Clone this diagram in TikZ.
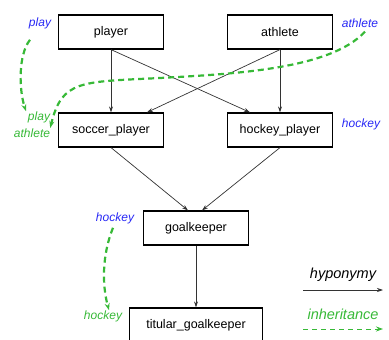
\documentclass[tikz,border=0pt]{standalone}
\usepackage{fontspec}
\setmainfont{Liberation Sans}
\usetikzlibrary{arrows.meta}
\definecolor{lblue}{RGB}{40,40,245}
\definecolor{lgreen}{RGB}{55,185,55}
\begin{document}
\begin{tikzpicture}[x=1pt,y=-1pt,
    box/.style={draw,line width=1.2pt,minimum width=105pt,minimum height=34pt,inner sep=0pt,font=\fontsize{12.5}{14}\selectfont},
    hyp/.style={draw=black!80,line width=0.7pt,-{Stealth[length=6pt,width=4pt]}},
    inh/.style={draw=lgreen,line width=2.2pt,dash pattern=on 6pt off 4pt,-{Stealth[length=7pt,width=5pt]}},
    blab/.style={text=lblue,inner sep=0pt,font=\fontsize{12}{14}\selectfont\itshape},
    glab/.style={text=lgreen,inner sep=0pt,font=\fontsize{12}{14}\selectfont\itshape},
    leg/.style={inner sep=0pt,font=\fontsize{14.5}{16}\selectfont\itshape}]
  \useasboundingbox (0,0) rectangle (389,340);
  \node (player) at (111,32) [box] {player}; \node (athlete) at (280,32)
  [box] {athlete}; \node (soccer) at (111,130) [box] {soccer\_player};
  \node (hockey) at (280,130) [box] {hockey\_player}; \node (goal) at
  (196,228) [box] {goalkeeper}; \node (titular) at (196,325) [box,minimum
  width=133pt] {titular\_goalkeeper};
  \draw[hyp] (player.south) -- (soccer.north); \draw[hyp] (player.south)
  -- ([xshift=-30pt]hockey.north); \draw[hyp] (athlete.south) --
  (hockey.north); \draw[hyp] (athlete.south) -- ([xshift=36pt]soccer.north);
  \draw[hyp] (soccer.south) -- ([xshift=-8pt]goal.north); \draw[hyp]
  (hockey.south) -- ([xshift=6pt]goal.north); \draw[hyp] (goal.south) --
  (titular.north);
  % inherited features
  \node (bplay) at (40,23) [blab] {play}; \node (bathl) at (360,23) [blab]
  {athlete}; \node (bhock) at (361,124) [blab] {hockey}; \node (bhock2) at
  (115,218) [blab] {hockey}; \node (gplay) at (39,117) [glab] {play};
  \node (gathl) at (32,133) [glab] {athlete}; \node (ghock) at (103,316)
  [glab] {hockey};
  \draw[inh] ([xshift=-10pt,yshift=-11pt]bplay.south) .. controls (18,55)
  and (19,90) .. ([xshift=-13pt]gplay.north);
  \draw[inh] ([xshift=5pt,yshift=-4pt]bathl.south) .. controls (330,70) and
  (230,74) .. (160,78) .. controls (80,82) and (62,80) ..
  ([yshift=5pt]gathl.east);
  \draw[inh] ([xshift=-2pt,yshift=-4pt]bhock2.south) .. controls (102,255)
  and (102,285) .. ([xshift=6pt]ghock.north);
  % legend
  \node (hypl) at (343,275) [leg] {hyponymy}; \node (inhl) at (343,314)
  [leg,text=lgreen] {inheritance}; \coordinate (h1) at (303,290);
  \coordinate (h2) at (383,290); \coordinate (i1) at (303,329);
  \coordinate (i2) at (383,329); \draw[hyp] (h1) -- (h2); \draw[inh,line
  width=1pt,dash pattern=on 5pt off 4pt] (i1) -- (i2);
\end{tikzpicture}
\end{document}
